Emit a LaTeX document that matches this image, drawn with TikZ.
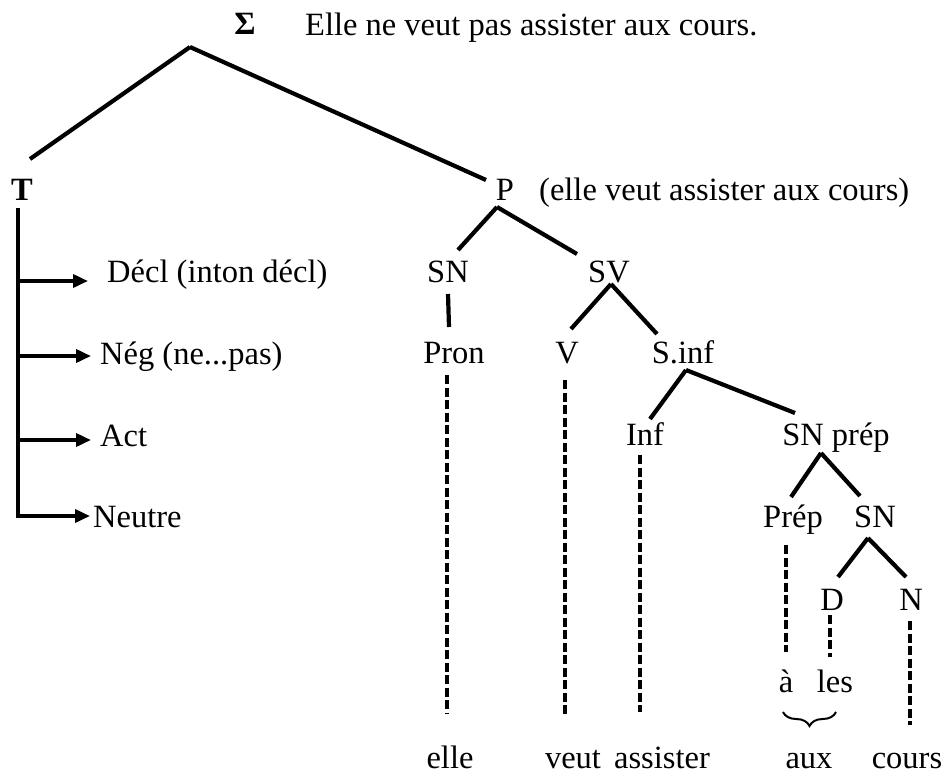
\documentclass[tikz,border=0pt]{standalone}
\usepackage{fontspec}
\setmainfont{Liberation Serif}
\usetikzlibrary{arrows.meta,decorations.pathreplacing}
\begin{document}
\begin{tikzpicture} [x=1pt,y=-1pt,font=\fontsize{32.5}{39}\selectfont,
		lbl/.style={inner sep=0pt,anchor=base},
		branch/.style={line width=4.2pt},
		trace/.style={line width=3.6pt,dash pattern=on 9pt off 3.5pt},
		feat/.style={line width=3.6pt,-{Triangle[length=15pt,width=13pt]}}]
		\useasboundingbox (0,0) rectangle (949,776);
		\node [lbl] (sig) at (245,35) {\textbf{Σ}};
		\node [lbl,anchor=base west] (sent) at (305,36) {Elle ne veut pas assister aux cours.};
		\coordinate (root) at (190,47);
		\node [lbl] (t) at (22,200) {\textbf{T}};
		\node [lbl] (p) at (505,200) {P};
		\node [lbl,anchor=base west] (pglose) at (539,200) {(elle veut assister aux cours)};
		\node [lbl,anchor=base west] (decl) at (107,282) {Décl (inton décl)};
		\node [lbl,anchor=base west] (neg) at (100,364) {Nég (ne...pas)};
		\node [lbl,anchor=base west] (act) at (100,446) {Act};
		\node [lbl,anchor=base west] (neutre) at (93,527) {Neutre};
		\node [lbl] (sn) at (448,282) {SN};
		\node [lbl] (sv) at (609,282) {SV};
		\node [lbl] (pron) at (454,363) {Pron};
		\node [lbl] (v) at (567,363) {V};
		\node [lbl] (sinf) at (683,363) {S.inf};
		\node [lbl] (inf) at (645,445) {Inf};
		\node [lbl] (snprep) at (836,445) {SN prép};
		\node [lbl] (prep) at (793,527) {Prép};
		\node [lbl] (sn2) at (875,527) {SN};
		\node [lbl] (d) at (832,610) {D};
		\node [lbl] (n) at (911,610) {N};
		\node [lbl] (a) at (786,692) {à};
		\node [lbl] (les) at (835,692) {les};
		\node [lbl] (elle) at (450,768) {elle};
		\node [lbl] (veut) at (573,768) {veut};
		\node [lbl] (assister) at (662,768) {assister};
		\node [lbl] (aux) at (809,768) {aux};
		\node [lbl] (cours) at (907,768) {cours};
		\draw [branch] (root) -- ([xshift=8pt,yshift=41pt]t.base);
		\draw [branch] (root) -- ([xshift=-19pt,yshift=20pt]p.base);
		\draw [branch] ([xshift=-8pt,yshift=-7pt]p.base) -- ([xshift=10pt,yshift=32pt]sn.base);
		\draw [branch] ([xshift=-8pt,yshift=-7pt]p.base) -- ([xshift=-32pt,yshift=28pt]sv.base);
		\draw [branch] ([yshift=-12pt]sn.base) -- ([xshift=-5pt,yshift=36pt]pron.base);
		\draw [branch] ([xshift=2pt,yshift=-2pt]sv.base) -- ([xshift=4pt,yshift=34pt]v.base);
		\draw [branch] ([xshift=2pt,yshift=-2pt]sv.base) -- ([xshift=-26pt,yshift=29pt]sinf.base);
		\draw [branch] ([xshift=3pt,yshift=-7pt]sinf.base) -- ([xshift=5pt,yshift=26pt]inf.base);
		\draw [branch] ([xshift=3pt,yshift=-7pt]sinf.base) -- ([xshift=-41pt,yshift=32pt]snprep.base);
		\draw [branch] ([xshift=-15pt,yshift=-8pt]snprep.base) -- ([xshift=-2pt,yshift=30pt]prep.base);
		\draw [branch] ([xshift=-15pt,yshift=-8pt]snprep.base) -- ([xshift=-15pt,yshift=31pt]sn2.base);
		\draw [branch] ([xshift=-7pt,yshift=-11pt]sn2.base) -- ([xshift=6pt,yshift=33pt]d.base);
		\draw [branch] ([xshift=-7pt,yshift=-11pt]sn2.base) -- ([xshift=-5pt,yshift=33pt]n.base);
		\coordinate (tline) at ([xshift=-4pt,yshift=-8pt]t.base);
		\draw [feat] (tline) |- ([xshift=-3pt,yshift=11pt]neutre.base west);
		\draw [feat] ([yshift=1pt]tline |- decl.base west) -- ([xshift=-19pt,yshift=1pt]decl.base west);
		\draw [feat] ([yshift=8pt]tline |- neg.base west) -- ([xshift=-9pt,yshift=8pt]neg.base west);
		\draw [feat] ([yshift=6pt]tline |- act.base west) -- ([xshift=-9pt,yshift=6pt]act.base west);
		\draw [trace] ([xshift=-7pt,yshift=-12pt]pron.base) -- ([xshift=-3pt,yshift=55pt]elle.base);
		\draw [trace] ([xshift=-2pt,yshift=-17pt]v.base) -- ([xshift=-8pt,yshift=53pt]veut.base);
		\draw [trace] ([xshift=-5pt,yshift=-10pt]inf.base) -- ([xshift=-22pt,yshift=56pt]assister.base);
		\draw [trace] ([xshift=-7pt,yshift=-18pt]prep.base) -- ([yshift=40pt]a.base);
		\draw [trace] ([xshift=-2pt,yshift=-5pt]d.base) -- ([xshift=-5pt,yshift=35pt]les.base);
		\draw [trace] ([xshift=-1pt,yshift=-11pt]n.base) -- ([xshift=3pt,yshift=43pt]cours.base);
		\draw [line width=2pt,decorate,decoration={brace,mirror,amplitude=14pt}] ([xshift=-3pt,yshift=-20pt]a.base) -- ([xshift=1pt,yshift=-20pt]les.base);
	\end{tikzpicture}
\end{document}
